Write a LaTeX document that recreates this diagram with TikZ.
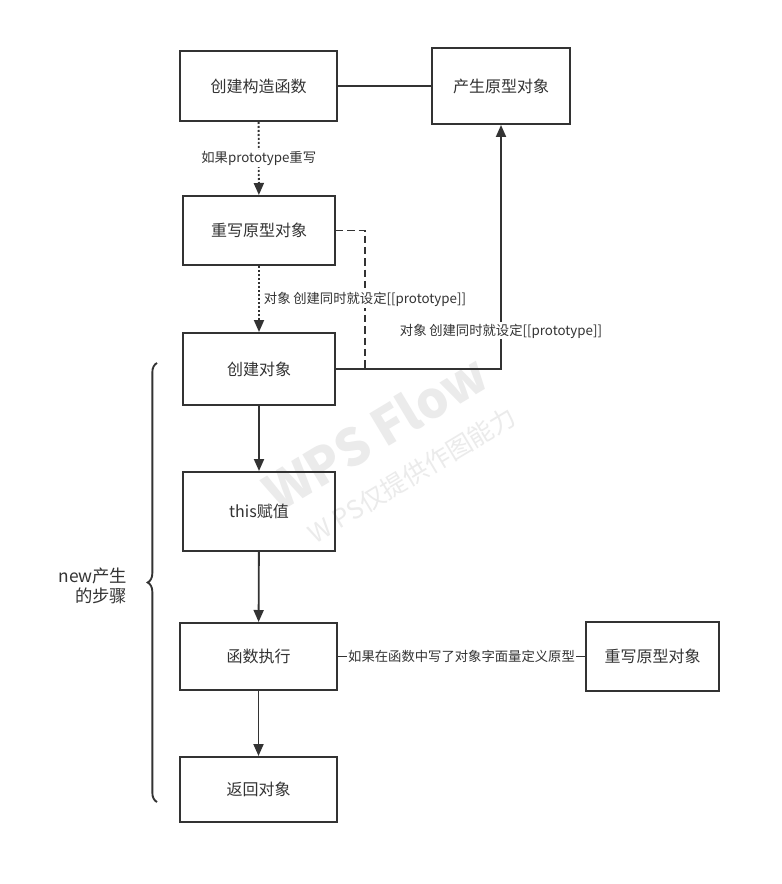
\documentclass[tikz,border=0pt]{standalone}
\usepackage{fontspec}
\setmainfont{Noto Sans CJK SC}
\usetikzlibrary{positioning,arrows.meta,decorations.pathreplacing}
\definecolor{ink}{RGB}{51,51,51}
\tikzset{
  box/.style 2 args={draw=ink, line width=1.5pt, align=center, font=\fontsize{12pt}{14pt}\selectfont, text=ink, minimum width=#1*0.75pt, minimum height=#2*0.75pt, inner sep=2pt},
  ln/.style={draw=ink, line width=1.4pt},
  arr/.style={ln, -{Triangle[length=9pt,width=7.5pt]}},
  dotarr/.style={arr, dash pattern=on 1.5pt off 1.5pt},
  dashln/.style={ln, dash pattern=on 5.5pt off 3pt},
  lab/.style={font=\fontsize{10pt}{12pt}\selectfont, text=ink, fill=white, inner sep=1pt},
  wmark/.style={text=gray!16, font=\bfseries\fontsize{38pt}{40pt}\selectfont, rotate=31},
}
\begin{document}
\begin{tikzpicture}[x=0.75pt, y=-0.75pt]
  \useasboundingbox[fill=white] (0,0) rectangle (781,884);
  % watermark
  \node[wmark] (wm1) at (375,432) {WPS Flow};
  \node[wmark, font=\fontsize{19pt}{21pt}\selectfont] (wm2) at (412,475) {W PS仅提供作图能力};
  % boxes
  \node[box={157}{70}] (ctor) at (258.5,86) {创建构造函数};
  \node[box={138}{76}] (proto) at (501,86) {产生原型对象};
  \node[box={152}{69}] (rewrite) at (259,230.5) {重写原型对象};
  \node[box={152}{72}] (obj) at (259,369) {创建对象};
  \node[box={152}{79}] (this) at (259,511.5) {this赋值};
  \node[box={157}{67}] (exec) at (258.5,656.5) {函数执行};
  \node[box={157}{65}] (ret) at (258.5,789.5) {返回对象};
  \node[box={133}{69}] (rewrite2) at (652.5,656.5) {重写原型对象};
  % connectors
  \draw[ln] (ctor) -- (proto);
  \draw[dotarr] (ctor) -- node[lab] {如果prototype重写} (rewrite);
  \draw[dashln] (rewrite.east) -- ++(29,0) |- (obj.east);
  \draw[dotarr] (rewrite) -- node[lab, right=2pt, anchor=west] {对象\hspace{2pt}创建同时就设定[[prototype]]} (obj);
  \draw[arr] (obj.east) -| node[lab, pos=0.578] {对象\hspace{2pt}创建同时就设定[[prototype]]} (proto.south);
  \draw[arr] (obj) -- (this);
  \draw[arr] (this) -- (exec);
  \draw[arr] (exec) -- (ret);
  \draw[ln] (exec) -- node[lab] {如果在函数中写了对象字面量定义原型} (rewrite2);
  % steps of new
  \coordinate (btop) at (157,363);
  \coordinate (bbot) at (157,802);
  \draw[ln, decorate, decoration={brace, amplitude=7pt}] (bbot) -- (btop);
  \node[font=\fontsize{13pt}{15pt}\selectfont, text=ink, align=right, anchor=east] (steps) at (132,586) {new产生\\的步骤};
\end{tikzpicture}
\end{document}
